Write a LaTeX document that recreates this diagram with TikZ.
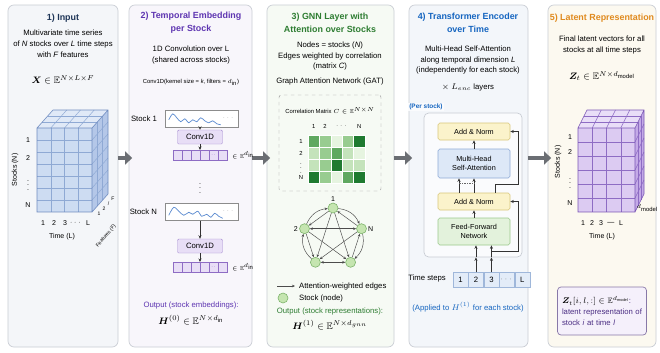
\documentclass[tikz,border=0pt]{standalone}
\usepackage{amsmath}
\usepackage{amssymb}
\usepackage{bm}
\usepackage{fontspec}
\setmainfont{Liberation Sans}
\usetikzlibrary{arrows.meta,positioning,calc,fit}

\definecolor{panelline}{HTML}{C9CDD4}
\definecolor{bgone}{HTML}{F4F6F9}
\definecolor{bgtwo}{HTML}{F8F6FB}
\definecolor{bgthree}{HTML}{F6FAF4}
\definecolor{bgfour}{HTML}{F3F6FA}
\definecolor{bgfive}{HTML}{FCF9F0}
\definecolor{navy}{HTML}{1E3557}
\definecolor{grape}{HTML}{5E35B1}
\definecolor{leaf}{HTML}{2E7D32}
\definecolor{ocean}{HTML}{1565C0}
\definecolor{amber}{HTML}{E08A1E}
\definecolor{arrowgray}{HTML}{6B6E73}
% cube colours
\definecolor{bfront}{HTML}{CDDCF2}
\definecolor{btop}{HTML}{E0E9F7}
\definecolor{bside}{HTML}{B4C7E8}
\definecolor{bgrid}{HTML}{8FA9D4}
\definecolor{bedge}{HTML}{6F8CC0}
\definecolor{pfront}{HTML}{DCCBF2}
\definecolor{ptop}{HTML}{E9DEF8}
\definecolor{pside}{HTML}{C4AAE7}
\definecolor{pgrid}{HTML}{8E6CC4}
\definecolor{pedge}{HTML}{7A56B5}
% boxes
\definecolor{convfill}{HTML}{E8DEF6}
\definecolor{convline}{HTML}{A58BD0}
\definecolor{wave}{HTML}{5B8BD0}
\definecolor{normfill}{HTML}{FBF3CB}
\definecolor{normline}{HTML}{D8C77A}
\definecolor{attfill}{HTML}{DDE8F7}
\definecolor{attline}{HTML}{8EAAD6}
\definecolor{ffnfill}{HTML}{E3F2DC}
\definecolor{ffnline}{HTML}{9CC98C}
\definecolor{stepfill}{HTML}{E3ECF8}
\definecolor{stepline}{HTML}{9FB7DA}
\definecolor{zfill}{HTML}{F5F0FB}
\definecolor{zline}{HTML}{8878A8}
\definecolor{ztext}{HTML}{4B2E83}
% correlation shades
\definecolor{gone}{HTML}{E6F4E0}
\definecolor{gtwo}{HTML}{C4E3BB}
\definecolor{gthree}{HTML}{98CC90}
\definecolor{gfour}{HTML}{5FA860}
\definecolor{gfive}{HTML}{1F7A30}
\definecolor{nodefill}{HTML}{C5E5B0}
\definecolor{nodeline}{HTML}{7CB36A}

\newcommand{\pxu}{0.3mm}

\begin{document}
\begin{tikzpicture}[x=0.3mm, y=-0.3mm,
    font=\fontsize{6.6}{9.3}\selectfont,
    panel/.style={draw=panelline, rounded corners=5pt, line width=0.6pt, inner sep=0pt},
    ttl/.style={font=\fontsize{7.6}{11}\selectfont\bfseries, align=center},
    txt/.style={align=center},
    small/.style={font=\fontsize{5}{6}\selectfont},
    tiny/.style={font=\fontsize{4.3}{5}\selectfont, inner sep=0.5pt},
    eqn/.style={font=\fontsize{8}{9}\selectfont},
    bigarrow/.style={-{Triangle[length=6pt,width=11pt]}, line width=3.6pt, draw=arrowgray, shorten >=-3pt},
    flow/.style={-{Stealth[length=3pt,width=2.6pt]}, line width=0.5pt, draw=black!80},
    sigbox/.style={draw=black!45, fill=white, minimum width=73*\pxu, minimum height=17*\pxu, inner sep=0pt},
    convbox/.style={draw=convline, fill=convfill, rounded corners=1pt, minimum width=45*\pxu, minimum height=14*\pxu, inner sep=0pt},
    cell/.style={draw=pgrid, fill=convfill, line width=0.4pt},
    block/.style={rounded corners=1.5pt, minimum width=72*\pxu, align=center, inner sep=1pt, line width=0.5pt,
        font=\fontsize{6.2}{8}\selectfont},
    tstep/.style={draw=stepline, fill=stepfill, minimum width=15*\pxu, minimum height=15*\pxu, inner sep=0pt},
    gnode/.style={circle, draw=nodeline, fill=nodefill, minimum size=10*\pxu, inner sep=0pt, line width=0.5pt},
    gedge/.style={-{Stealth[length=2.6pt,width=2.2pt]}, draw=black!70, line width=0.4pt},
    gedges/.style={{Stealth[length=2.6pt,width=2.2pt]}-{Stealth[length=2.6pt,width=2.2pt]}, draw=black!70, line width=0.4pt},
    lbl/.style={font=\fontsize{6}{7}\selectfont, inner sep=1pt}]

  \useasboundingbox (0,0) rectangle (660,352);
  \fill[white] (0,0) rectangle (660,352);

  % the five stages
  \node[panel, fill=bgone, fit={(8,5) (118,347)}] (p1) {};
  \node[panel, fill=bgtwo, fit={(129,5) (252,347)}] (p2) {};
  \node[panel, fill=bgthree, fit={(267,5) (394,347)}] (p3) {};
  \node[panel, fill=bgfour, fit={(409,5) (528,347)}] (p4) {};
  \node[panel, fill=bgfive, fit={(548,5) (656,347)}] (p5) {};

  \draw[bigarrow] (p1.east |- 0,158) -- (p2.west |- 0,158);
  \draw[bigarrow] (p2.east |- 0,158) -- (p3.west |- 0,158);
  \draw[bigarrow] (p3.east |- 0,158) -- (p4.west |- 0,158);
  \draw[bigarrow] (p4.east |- 0,158) -- (p5.west |- 0,158);

  % ---------- 1) input tensor ----------
  \node[ttl, text=navy] (t1) at (63,18) {1) Input};
  \node[txt] (d1) at (63,44) {Multivariate time series\\of \textit{N} stocks over \textit{L} time steps\\with \textit{F} features};
  \node[eqn] (x1) at (63,80) {$\bm{X}\in\mathbb{E}^{N\times L\times F}$};

  \fill[btop] (37,128) -- ++(16,-18) -- ++(55,0) -- (92,128) -- cycle;
  \fill[bside] (92,128) -- ++(16,-18) -- ++(0,84) -- (92,212) -- cycle;
  \fill[bfront] (37,128) rectangle (92,212);
  \foreach \i in {1,...,3} {
    \draw[bgrid, line width=0.4pt] (37+\i*13.75,128) -- ++(0,84);
    \draw[bgrid, line width=0.4pt] (37+\i*13.75,128) -- ++(16,-18);
  }
  \foreach \j in {1,...,6} {
    \draw[bgrid, line width=0.4pt] (37,128+\j*12) -- ++(55,0);
    \draw[bgrid, line width=0.4pt] (92,128+\j*12) -- ++(16,-18);
  }
  \foreach \k in {1,2} {
    \draw[bgrid, line width=0.4pt] (37+\k*16/3,128-\k*6) -- ++(55,0);
    \draw[bgrid, line width=0.4pt] (92+\k*16/3,128-\k*6) -- ++(0,84);
  }
  \draw[bedge, line width=0.5pt] (37,128) rectangle (92,212)
    (37,128) -- ++(16,-18) -- ++(55,0) -- ++(0,84) -- (92,212) (92,128) -- ++(16,-18);

  \node[lbl] (r11) at (28,140) {1};
  \node[lbl] (r12) at (28,158) {2};
  \node[lbl] (r13) at (28,182) {$\vdots$};
  \node[lbl] (r1n) at (28,205) {N};
  \node[lbl, rotate=90] (sn1) at (15,170) {Stocks (N)};
  \node[lbl] (c11) at (43,223) {1};
  \node[lbl] (c12) at (54,223) {2};
  \node[lbl] (c13) at (65,223) {3};
  \node[lbl] (c14) at (76,223) {$\cdots$};
  \node[lbl] (c1l) at (88,223) {L};
  \node[lbl] (tl1) at (62,237) {Time (L)};
  \node[tiny] (f11) at (99,214) {1};
  \node[tiny] (f12) at (104,209) {2};
  \node[tiny] (f13) at (108.5,204) {/};
  \node[tiny] (f1f) at (113,199) {F};
  \node[tiny, rotate=50] (ft1) at (106,236) {Features (F)};

  % ---------- 2) temporal embedding ----------
  \node[ttl, text=grape] (t2) at (191,23) {2) Temporal Embedding\\per Stock};
  \node[txt] (d2) at (191,55) {1D Convolution over L\\(shared across stocks)};
  \node[small] (k2) at (191,82) {Conv1D(kernel size = \textit{k}, filters = $d_{\text{in}}$)};

  \node[sigbox] (sig1) at (201.5,118.5) {};
  \node[anchor=east] (s1) at (161,118.5) {Stock 1};
  \begin{scope}[shift={(sig1.north west)}]
    \draw[wave, line width=0.6pt] plot[smooth] coordinates {(4,10) (8,4) (12,8) (16,12) (20,9) (24,13) (28,10) (32,12) (36,8) (40,11) (44,13) (48,11) (52,14) (56,15)};
    \node[small, text=black!50] at (64,8) {$\cdots$};
  \end{scope}
  \node[convbox] (conv1) at (200,137) {Conv1D};
  \foreach \i in {0,...,5}
    \draw[cell] (173+\i*9,150) rectangle ++(9,10);
  \node[small, text=pgrid] at (173+4.5*9,155) {$\cdot\cdot$};
  \coordinate (v1) at (200,150);
  \node[anchor=west, small] (e1) at (228,155) {$\in\mathbb{E}^{d_{\text{in}}}$};
  \draw[flow] (conv1 |- sig1.south) -- (conv1);
  \draw[flow] (conv1) -- (v1);

  \node[lbl] (dots2) at (200,185) {$\vdots$};

  \node[sigbox] (sig2) at (201.5,212) {};
  \node[anchor=east] (s2) at (161,212) {Stock N};
  \begin{scope}[shift={(sig2.north west)}]
    \draw[wave, line width=0.6pt] plot[smooth] coordinates {(4,12) (9,4) (14,8) (19,12) (24,9) (28,11) (33,8) (37,13) (42,11) (46,14) (50,10) (54,13) (58,15)};
    \node[small, text=black!50] at (64,8) {$\cdots$};
  \end{scope}
  \node[convbox] (conv2) at (200,246) {Conv1D};
  \foreach \i in {0,...,5}
    \draw[cell] (173+\i*9,262) rectangle ++(9,10);
  \node[small, text=pgrid] at (173+4.5*9,267) {$\cdot\cdot$};
  \coordinate (v2) at (200,262);
  \node[anchor=west, small] (e2) at (228,267) {$\in\mathbb{E}^{d_{\text{in}}}$};
  \draw[flow] (conv2 |- sig2.south) -- (conv2);
  \draw[flow] (conv2) -- (v2);

  \node[text=grape] (o2) at (191,305) {Output (stock embeddings):};
  \node[eqn] (h2) at (191,320) {$\bm{H}^{(0)}\in\mathbb{E}^{N\times d_{\text{in}}}$};

  % ---------- 3) graph attention ----------
  \node[ttl, text=leaf] (t3) at (330,23) {3) GNN Layer with\\Attention over Stocks};
  \node[txt, font=\fontsize{6.6}{8.6}\selectfont] (d3) at (330,56) {Nodes = stocks (\textit{N})\\Edges weighted by correlation\\(matrix \textit{C})};
  \node (gat) at (330,81) {Graph Attention Network (GAT)};
  \node[draw=black!40, dashed, rounded corners=2pt, fit={(279,95) (381,191)}, inner sep=0pt] (cbox) {};
  \node[small] (ct) at (330,111) {Correlation Matrix $C\in\mathbb{E}^{N\times N}$};
  \foreach \row [count=\r from 0] in {{gfour,gthree,gone,gthree,gfive},{gtwo,gthree,gfour,gtwo,gone},{gtwo,gthree,gfive,gtwo,gtwo},{gfive,gthree,gone,gfour,gfive}}
    \foreach \c [count=\k from 0] in \row
      \draw[white, fill=\c, line width=0.4pt] (308+\k*11.4,135+\r*12) rectangle ++(11.4,12);
  \node[small] (cc1) at (313.7,126) {1};
  \node[small] (cc2) at (325.1,126) {2};
  \node[small] (cc3) at (342,126) {$\cdots$};
  \node[small] (ccn) at (359.3,126) {N};
  \node[small] (cr1) at (301,141) {1};
  \node[small] (cr2) at (301,153) {2};
  \node[small] (cr3) at (301,165) {$\vdots$};
  \node[small] (crn) at (301,177) {N};

  \node[gnode, label={[lbl]above:1}] (g1) at (333,208) {};
  \node[gnode, label={[lbl]left:2}] (g2) at (304.5,228.7) {};
  \node[gnode, label={[lbl]right:N}] (gn) at (361.5,228.7) {};
  \node[gnode] (g4) at (315.4,262.3) {};
  \node[gnode] (g5) at (350.6,262.3) {};
  \draw[gedge] (g1) -- (g4);
  \draw[gedge] (g1) -- (g5);
  \draw[gedges] (g2) -- (gn);
  \draw[gedge] (g2) -- (g5);
  \draw[gedge] (gn) -- (g4);
  \draw[gedge] (g1) -- (g2);
  \draw[gedge] (gn) -- (g1);
  \draw[gedge] (g5) -- (gn);
  \draw[gedges] (g4) -- (g5);
  \draw[gedge] (g2) -- (g4);
  \draw[gedge] (g2) to[bend left=30] (g1);
  \draw[gedge] (g1) to[bend left=30] (gn);
  \draw[gedge] (gn) to[bend left=30] (g5);
  \draw[gedge] (g4) to[bend left=30] (g2);

  \coordinate (la) at (277,286);
  \node[anchor=west] (lt) at (295,286) {Attention-weighted edges};
  \draw[gedge] (la) -- (lt.west);
  \node[gnode] (ln) at (283,298) {};
  \node[anchor=west] (lnt) at (295,298) {Stock (node)};

  \node[text=leaf] (o3) at (330,311) {Output (stock representations):};
  \node[eqn] (h3) at (330,325) {$\bm{H}^{(1)}\in\mathbb{E}^{N\times d_{gnn}}$};

  % ---------- 4) transformer encoder ----------
  \node[ttl, text=ocean] (t4) at (468,23) {4) Transformer Encoder\\over Time};
  \node[txt] (d4) at (468,60) {Multi-Head Self-Attention\\along temporal dimension \textit{L}\\(independently for each stock)};
  \node (nl) at (468,87) {$\times\ L_{enc}$ layers};
  \node[draw=panelline, fill=white!60!bgfour, rounded corners=4pt, line width=0.6pt, fit={(424,113) (522,257)}, inner sep=0pt] (perbox) {};
  \node[font=\fontsize{5.5}{6}\selectfont\bfseries, text=ocean, fill=white!60!bgfour, inner sep=1pt] (pst) at (426,107) {(Per stock)};
  \node[block, fill=normfill, draw=normline, minimum height=17*\pxu] (an1) at (474,131.5) {Add \& Norm};
  \node[block, fill=attfill, draw=attline, minimum height=29*\pxu] (mhsa) at (474,163.5) {Multi-Head\\Self-Attention};
  \node[block, fill=normfill, draw=normline, minimum height=17*\pxu] (an2) at (474,201.5) {Add \& Norm};
  \node[block, fill=ffnfill, draw=ffnline, minimum height=27*\pxu] (ffn) at (474,231.5) {Feed-Forward\\Network};

  \node[tstep] (ts1) at (460.5,280) {1};
  \node[tstep, right=0pt of ts1] (ts2) {2};
  \node[tstep, right=0pt of ts2] (ts3) {3};
  \node[tstep, right=0pt of ts3, text=black!50] (ts4) {$\cdots$};
  \node[tstep, right=0pt of ts4] (ts5) {L};
  \node[anchor=east] (tsl) at (450,278) {Time steps};

  \draw[flow] (ts2.north) -- (ts2.north |- perbox.south);
  \draw[flow] (ts3.north) -- (ts3.north |- perbox.south);
  \draw[flow] (ts2.north |- perbox.south) -- (ts2.north |- ffn.south);
  \draw[flow] (ts3.north |- perbox.south) -- (ts3.north |- ffn.south);
  \draw[flow] (ts3.north |- 0,251) -| ($(an2.east)+(8,0)$) -- (an2.east);
  \draw[flow] (ffn) -- (an2);
  \draw[flow] ($(an2.north)+(-15,0)$) -- ($(mhsa.south)+(-15,0)$);
  \draw[flow] (an2) -- (mhsa);
  \draw[black!60, densely dotted, line width=0.4pt] ($(mhsa.south)+(0,5)$) -- ($(mhsa.south)+(-15,5)$);
  \draw[flow] ($(an2.north)+(21,0)$) -- ++(0,-8) -| ($(an1.east)+(8,0)$) -- (an1.east);
  \draw[flow] (mhsa) -- (an1);

  \node[text=ocean] (o4) at (468,307) {(Applied to $H^{(1)}$ for each stock)};

  % ---------- 5) latent output ----------
  \node[ttl, text=amber] (t5) at (602,18) {5) Latent Representation};
  \node[txt] (d5) at (602,45) {Final latent vectors for all\\stocks at all time steps};
  \node[eqn] (z5) at (602,76) {$\bm{Z}_t\in\mathbb{E}^{N\times d_{\mathrm{model}}}$};

  \fill[ptop] (578,128) -- ++(9,-18) -- ++(57,0) -- (635,128) -- cycle;
  \fill[pside] (635,128) -- ++(9,-18) -- ++(0,84) -- (635,212) -- cycle;
  \fill[pfront] (578,128) rectangle (635,212);
  \foreach \i in {1,...,3} {
    \draw[pgrid, line width=0.4pt] (578+\i*14.25,128) -- ++(0,84);
    \draw[pgrid, line width=0.4pt] (578+\i*14.25,128) -- ++(9,-18);
  }
  \foreach \j in {1,...,5} {
    \draw[pgrid, line width=0.4pt] (578,128+\j*14) -- ++(57,0);
    \draw[pgrid, line width=0.4pt] (635,128+\j*14) -- ++(9,-18);
  }
  \foreach \k in {1,2} {
    \draw[pgrid, line width=0.4pt] (578+\k*3,128-\k*6) -- ++(57,0);
    \draw[pgrid, line width=0.4pt] (635+\k*3,128-\k*6) -- ++(0,84);
  }
  \draw[pedge, line width=0.5pt] (578,128) rectangle (635,212)
    (578,128) -- ++(9,-18) -- ++(57,0) -- ++(0,84) -- (635,212) (635,128) -- ++(9,-18);

  \node[lbl] (r51) at (570,137) {1};
  \node[lbl] (r52) at (570,152) {2};
  \node[lbl] (r53) at (570,180) {$\vdots$};
  \node[lbl] (r5n) at (570,203) {N};
  \node[lbl, rotate=90] (sn5) at (558,162) {Stocks (N)};
  \node[lbl] (c51) at (583,223) {1};
  \node[lbl] (c52) at (592,223) {2};
  \node[lbl] (c53) at (601,223) {3};
  \node[lbl] (c54) at (611,223) {---};
  \node[lbl] (c5l) at (621,223) {L};
  \node[lbl] (tl5) at (602,237) {Time (L)};
  \node[small, inner sep=0.5pt, anchor=west] (dm5) at (636,208) {$d_{\mathrm{model}}$};

  \node[draw=zline, fill=zfill, rounded corners=3pt, line width=0.6pt, minimum width=89*\pxu, minimum height=48*\pxu,
        text width=80*\pxu, align=left, inner sep=2pt, text=ztext] (zb) at (602,311)
        {{\color{black}$\bm{Z}_t[i,l,:]\in\mathbb{E}^{d_{\mathrm{model}}}$}:\\latent representation of\\stock \textit{i} at time \textit{l}};
\end{tikzpicture}
\end{document}
